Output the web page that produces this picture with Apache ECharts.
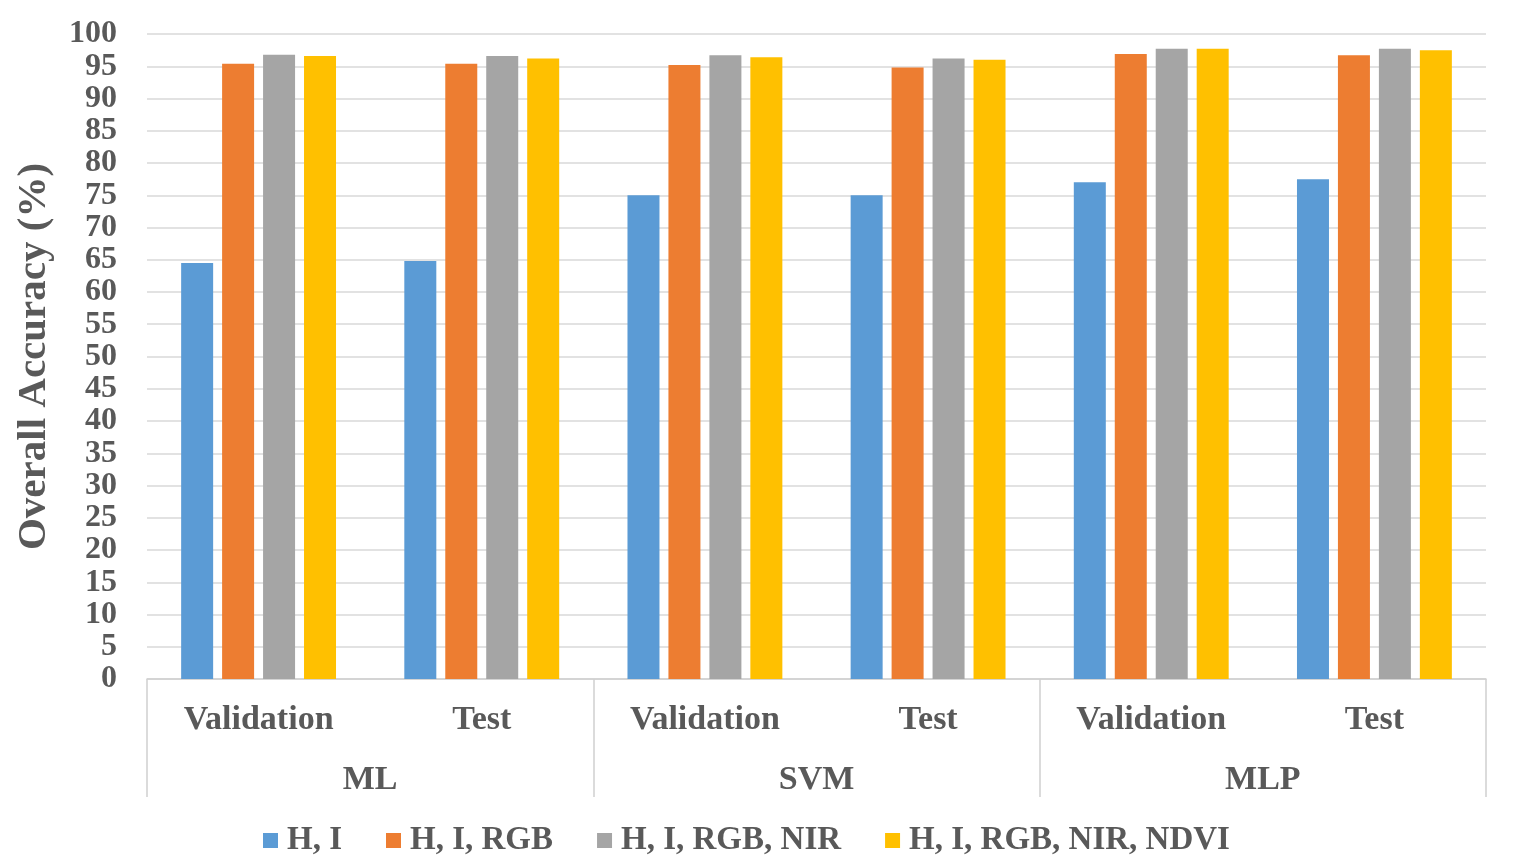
<!DOCTYPE html>
<html>
<head>
<meta charset="utf-8">
<script src="https://cdn.jsdelivr.net/npm/echarts@6/dist/echarts.min.js"></script>
<style>html,body{margin:0;padding:0;background:#fff}#c{width:1538px;height:868px}</style>
</head>
<body>
<div id="c"></div>
<script>
const subCategories = ['Validation', 'Test', 'Validation', 'Test', 'Validation', 'Test'];
const groups = ['ML', 'SVM', 'MLP'];
const seriesNames = ['H, I', 'H, I, RGB', 'H, I, RGB, NIR', 'H, I, RGB, NIR, NDVI'];
const hI = [64.5, 64.8, 75.0, 75.0, 77.0, 77.5];
const hIRgb = [95.4, 95.4, 95.2, 94.8, 96.9, 96.7];
const hIRgbNir = [96.8, 96.6, 96.7, 96.2, 97.7, 97.7];
const hIRgbNirNdvi = [96.6, 96.2, 96.4, 96.0, 97.7, 97.5];
const colors = ['#5B9BD5', '#ED7D31', '#A5A5A5', '#FFC000'];

const FONT = "'Liberation Serif', 'Times New Roman', serif";
const TXT = '#595959';
const values = [hI, hIRgb, hIRgbNir, hIRgbNirNdvi];

const chart = echarts.init(document.getElementById('c'));
chart.setOption({
  animation: false,
  backgroundColor: '#fff',
  color: colors,
  grid: { left: 147, right: 52, top: 34, bottom: 189 },
  legend: {
    top: 819, left: 258,
    icon: 'rect', itemWidth: 15, itemHeight: 15, itemGap: 44,
    textStyle: { fontFamily: FONT, fontWeight: 'bold', fontSize: 33, color: TXT, padding: [0, 0, 0, 4] },
    data: seriesNames
  },
  xAxis: [
    {
      type: 'category', data: subCategories, position: 'bottom',
      axisLine: { show: true, lineStyle: { color: '#d0d0d0', width: 1.5 } },
      axisTick: { show: false },
      axisLabel: { interval: 0, margin: 24, fontFamily: FONT, fontWeight: 'bold', fontSize: 34, color: TXT }
    },
    {
      type: 'category', data: groups, position: 'bottom',
      axisLine: { show: false },
      axisTick: { show: true, interval: 0, length: 118, lineStyle: { color: '#d0d0d0', width: 1.5 } },
      axisLabel: { interval: 0, margin: 84, fontFamily: FONT, fontWeight: 'bold', fontSize: 34, color: TXT }
    }
  ],
  yAxis: {
    type: 'value', min: 0, max: 100, interval: 5,
    name: 'Overall Accuracy (%)', nameLocation: 'middle', nameGap: 92,
    nameTextStyle: { fontFamily: FONT, fontWeight: 'bold', fontSize: 41, color: TXT },
    axisLine: { show: false }, axisTick: { show: false },
    axisLabel: { margin: 30, fontFamily: FONT, fontWeight: 'bold', fontSize: 32, color: TXT },
    splitLine: { lineStyle: { color: '#d9d9d9', width: 1.5 } }
  },
  series: seriesNames.map((n, i) => ({
    name: n, type: 'bar', xAxisIndex: 0, data: values[i],
    barWidth: 32, barGap: '28%',
    itemStyle: { color: colors[i] }
  }))
});
</script>
</body>
</html>
